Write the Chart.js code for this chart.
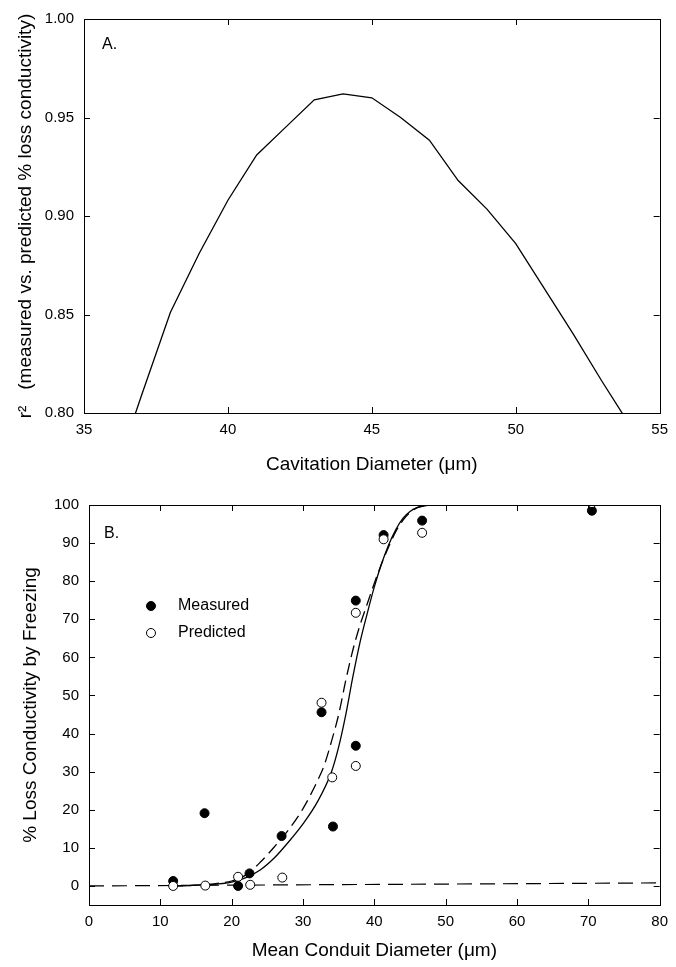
<!DOCTYPE html>
<html>
<head>
<meta charset="utf-8">
<script src="https://cdn.jsdelivr.net/npm/chart.js@4.4.1/dist/chart.umd.min.js"></script>
<style>
  body { margin: 0; background: #fff; }
  canvas { display: block; }
</style>
</head>
<body>
<canvas id="chartA" width="676" height="480"></canvas>
<canvas id="chartB" width="676" height="487"></canvas>
<script>
// Panel A: r^2 vs cavitation diameter
const cavDiameter = [36, 37, 38, 39, 40, 41, 42, 43, 44, 45, 46, 47, 48, 49, 50, 51, 52, 53, 54];
const rSquared = [0.766, 0.809, 0.851, 0.881, 0.908, 0.931, 0.945, 0.959, 0.962, 0.960, 0.950, 0.9385, 0.918, 0.9035, 0.886, 0.863, 0.840, 0.816, 0.793];
const xTicksA = [35, 40, 45, 50, 55];
const yTicksA = [0.80, 0.85, 0.90, 0.95, 1.00];

// Panel B: % loss conductivity vs mean conduit diameter
const conduitDiam = [11.8, 16.2, 20.9, 22.5, 27.0, 32.6, 34.2, 37.4, 37.4, 41.3, 46.7, 70.5];
const measured = [1.3, 19.1, 0, 3.3, 13.1, 45.6, 15.6, 74.9, 36.8, 92.1, 95.9, 98.5];
const predictedDiam = [11.8, 16.3, 20.9, 22.6, 27.1, 32.6, 34.1, 37.4, 37.4, 41.3, 46.7, 70.5];
const predicted = [0, 0.1, 2.4, 0.3, 2.2, 48.1, 28.5, 71.7, 31.5, 91.0, 92.7, 100.5];

const solidFitX = [11.5, 14, 16, 18, 20, 22, 24, 26, 28, 30, 32, 34, 35, 36, 37, 38, 39, 40, 41, 42, 43, 44, 45, 46, 47, 48, 50, 60, 70, 80];
const solidFitY = [0, 0.1, 0.3, 0.5, 1.0, 2.2, 4.2, 7.4, 11.6, 16.3, 22, 30, 36.5, 45, 55, 64, 71.5, 78.5, 84.5, 89.5, 93.5, 96.5, 98.3, 99.3, 99.8, 100, 100, 100, 100, 100];
const dashFitX = [11.5, 14, 16, 18, 20, 22, 24, 26, 28, 30, 32, 33, 34, 35, 36, 37, 38, 39, 40, 41, 42, 43, 44, 45, 46, 47, 48, 50, 60, 70, 80];
const dashFitY = [0, 0.1, 0.3, 0.7, 1.3, 2.9, 6.2, 10.3, 14.8, 20.3, 27.5, 31.8, 38, 45, 54, 62, 68.5, 74, 79.5, 84.5, 89, 93, 96, 98, 99.3, 99.8, 100, 100, 100, 100, 100];
const zeroLineX = [0, 80];
const zeroLineY = [0, 0.8];
const xTicksB = [0, 10, 20, 30, 40, 50, 60, 70, 80];
const yTicksB = [0, 10, 20, 30, 40, 50, 60, 70, 80, 90, 100];

const FONT = '"Liberation Sans", Arial, Helvetica, sans-serif';
Chart.defaults.font.family = FONT;
Chart.defaults.color = '#000';

const toPoints = (xs, ys) => xs.map((x, i) => ({x: x, y: ys[i]}));

// frame with inward ticks on all four sides, panel letter, optional legend
const framePlugin = {
  id: 'frame',
  afterDraw(chart, args, opts) {
    const {ctx, chartArea: a, scales} = chart;
    ctx.save();
    ctx.strokeStyle = '#000';
    ctx.lineWidth = 1;
    ctx.strokeRect(Math.round(a.left) + 0.5, Math.round(a.top) + 0.5,
      Math.round(a.right - a.left), Math.round(a.bottom - a.top));
    const len = 6;
    ctx.beginPath();
    scales.x.ticks.forEach(t => {
      const px = Math.round(scales.x.getPixelForValue(t.value)) + 0.5;
      ctx.moveTo(px, a.bottom); ctx.lineTo(px, a.bottom - len);
      ctx.moveTo(px, a.top); ctx.lineTo(px, a.top + len);
    });
    scales.y.ticks.forEach(t => {
      const py = Math.round(scales.y.getPixelForValue(t.value)) + 0.5;
      ctx.moveTo(a.left, py); ctx.lineTo(a.left + len, py);
      ctx.moveTo(a.right, py); ctx.lineTo(a.right - len, py);
    });
    ctx.stroke();

    ctx.fillStyle = '#000';
    ctx.font = '16px ' + FONT;
    ctx.textBaseline = 'alphabetic';
    ctx.fillText(opts.label, a.left + opts.labelDx, a.top + opts.labelDy);

    if (opts.legend) {
      ctx.font = '16px ' + FONT;
      ctx.textBaseline = 'middle';
      opts.legend.forEach((item, i) => {
        const ds = chart.data.datasets[item.dataset];
        const cx = a.left + 62, cy = a.top + 101 + i * 27;
        ctx.beginPath();
        ctx.arc(cx, cy, 4.5, 0, Math.PI * 2);
        ctx.fillStyle = ds.backgroundColor;
        ctx.fill();
        ctx.strokeStyle = ds.borderColor;
        ctx.stroke();
        ctx.fillStyle = '#000';
        ctx.fillText(ds.label, a.left + 89, cy);
      });
    }
    ctx.restore();
  }
};

const chartA = new Chart(document.getElementById('chartA'), {
  type: 'scatter',
  data: {
    datasets: [{
      label: 'r2',
      data: toPoints(cavDiameter, rSquared),
      showLine: true,
      borderColor: '#000',
      borderWidth: 1.3,
      pointRadius: 0,
      tension: 0
    }]
  },
  options: {
    responsive: false,
    animation: false,
    layout: { padding: { left: 0, right: 15, top: 14, bottom: 0 } },
    plugins: {
      legend: { display: false },
      tooltip: { enabled: false },
      frame: { label: 'A.', labelDx: 18, labelDy: 30 }
    },
    scales: {
      x: {
        type: 'linear', min: 35, max: 55,
        afterFit: s => { s.height = 67; },
        afterBuildTicks: s => { s.ticks = xTicksA.map(v => ({value: v})); },
        grid: { display: false, drawTicks: false },
        border: { display: false },
        ticks: { font: { size: 15 }, padding: 8, maxRotation: 0 },
        title: { display: true, text: 'Cavitation Diameter (\u03bcm)', font: { size: 19 }, padding: { bottom: 4 } }
      },
      y: {
        type: 'linear', min: 0.80, max: 1.00,
        afterFit: s => { s.width = 84; },
        afterBuildTicks: s => { s.ticks = yTicksA.map(v => ({value: v})); },
        grid: { display: false, drawTicks: false },
        border: { display: false },
        ticks: { font: { size: 15 }, padding: 10, callback: v => v.toFixed(2) },
        title: { display: true, text: 'r\u00b2   (measured vs. predicted % loss conductivity)', font: { size: 19 }, padding: { top: 14 } }
      }
    }
  },
  plugins: [framePlugin]
});

const chartB = new Chart(document.getElementById('chartB'), {
  type: 'scatter',
  data: {
    datasets: [{
      label: 'Predicted',
      data: toPoints(predictedDiam, predicted),
      backgroundColor: '#fff',
      borderColor: '#000',
      borderWidth: 1,
      pointRadius: 4.5
    }, {
      label: 'Measured',
      data: toPoints(conduitDiam, measured),
      backgroundColor: '#000',
      borderColor: '#000',
      borderWidth: 1,
      pointRadius: 4.5
    }, {
      label: 'Fit measured',
      data: toPoints(solidFitX, solidFitY),
      showLine: true,
      borderColor: '#000',
      borderWidth: 1.3,
      pointRadius: 0,
      cubicInterpolationMode: 'monotone'
    }, {
      label: 'Fit predicted',
      data: toPoints(dashFitX, dashFitY),
      showLine: true,
      borderColor: '#000',
      borderWidth: 1.3,
      borderDash: [12, 6],
      pointRadius: 0,
      cubicInterpolationMode: 'monotone'
    }, {
      label: 'Zero',
      data: toPoints(zeroLineX, zeroLineY),
      showLine: true,
      borderColor: '#000',
      borderWidth: 1.2,
      borderDash: [15, 8],
      pointRadius: 0
    }]
  },
  options: {
    responsive: false,
    animation: false,
    layout: { padding: { left: 0, right: 11, top: 25, bottom: 0 } },
    plugins: {
      legend: { display: false },
      tooltip: { enabled: false },
      frame: {
        label: 'B.', labelDx: 15, labelDy: 33,
        legend: [{ dataset: 1 }, { dataset: 0 }]
      }
    },
    scales: {
      x: {
        type: 'linear', min: 0, max: 80,
        afterFit: s => { s.height = 62; },
        afterBuildTicks: s => { s.ticks = xTicksB.map(v => ({value: v})); },
        grid: { display: false, drawTicks: false },
        border: { display: false },
        ticks: { font: { size: 15 }, padding: 8, maxRotation: 0 },
        title: { display: true, text: 'Mean Conduit Diameter (\u03bcm)', font: { size: 19 }, padding: { bottom: 5 } }
      },
      y: {
        type: 'linear', min: -5, max: 100,
        afterFit: s => { s.width = 89; },
        afterBuildTicks: s => { s.ticks = yTicksB.map(v => ({value: v})); },
        grid: { display: false, drawTicks: false },
        border: { display: false },
        ticks: { font: { size: 15 }, padding: 10 },
        title: { display: true, text: '% Loss Conductivity by Freezing', font: { size: 19 }, padding: { top: 19 } }
      }
    }
  },
  plugins: [framePlugin]
});
</script>
</body>
</html>
